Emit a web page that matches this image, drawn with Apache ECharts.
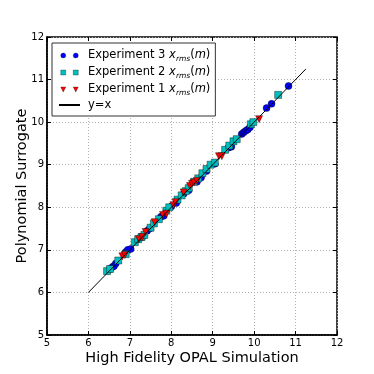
<!DOCTYPE html>
<html>
<head>
<meta charset="utf-8">
<script src="https://cdn.jsdelivr.net/npm/echarts@6/dist/echarts.min.js"></script>
<style>
  html, body { margin: 0; padding: 0; background: #fff; }
  #chart { width: 374px; height: 374px; }
</style>
</head>
<body>
<div id="chart"></div>
<script>
// data
var exp3X = [6.52, 6.58, 6.62, 6.66, 6.9, 6.95, 7.02, 7.3, 7.42, 7.48, 7.75, 7.82, 8.0, 8.12, 8.3, 8.42, 8.62, 8.72, 8.85, 9.05, 9.38, 9.45, 9.7, 9.75, 9.8, 9.85, 9.9, 10.3, 10.42, 10.83];
var exp3Y = [6.55, 6.6, 6.62, 6.68, 6.95, 7.0, 7.02, 7.3, 7.45, 7.5, 7.78, 7.8, 8.02, 8.1, 8.32, 8.4, 8.6, 8.7, 8.85, 9.02, 9.4, 9.42, 9.72, 9.76, 9.8, 9.83, 9.88, 10.33, 10.43, 10.85];
var exp2X = [6.45, 6.52, 6.72, 6.9, 7.12, 7.2, 7.28, 7.35, 7.5, 7.58, 7.7, 7.88, 7.95, 8.15, 8.25, 8.35, 8.42, 8.55, 8.65, 8.75, 8.85, 8.95, 9.05, 9.3, 9.4, 9.5, 9.58, 9.92, 9.98, 10.58];
var exp2Y = [6.5, 6.55, 6.75, 6.9, 7.18, 7.25, 7.3, 7.35, 7.52, 7.62, 7.72, 7.92, 8.0, 8.18, 8.28, 8.38, 8.45, 8.6, 8.68, 8.8, 8.9, 9.0, 9.05, 9.35, 9.45, 9.55, 9.6, 9.95, 10.0, 10.64];
var exp1X = [6.82, 6.88, 7.22, 7.3, 7.38, 7.6, 7.8, 7.88, 8.05, 8.1, 8.3, 8.45, 8.5, 8.55, 8.62, 9.15, 9.22, 10.12];
var exp1Y = [6.85, 6.88, 7.25, 7.3, 7.42, 7.65, 7.82, 7.85, 8.05, 8.12, 8.35, 8.5, 8.55, 8.58, 8.62, 9.2, 9.2, 10.07];
var lineXY = [6, 11.25];
var axisMin = 5, axisMax = 12;

function pairs(xs, ys) {
  var out = [];
  for (var i = 0; i < xs.length; i++) out.push([xs[i], ys[i]]);
  return out;
}

var myChart = echarts.init(document.getElementById('chart'));

var font = 'DejaVu Sans';
var gridLine = { show: true, lineStyle: { color: '#b0b0b0', type: [1, 2], width: 1 } };

function legendLabel(n) {
  return '{n|Experiment ' + n + ' }{x|x}{s|rms}{p|(}{x|m}{p|)}';
}

var option = {
  animation: false,
  textStyle: { fontFamily: font },
  grid: {
    left: 47, right: 37, top: 37, bottom: 39,
    show: true, borderColor: '#000', borderWidth: 1.5
  },
  legend: {
    left: 52, top: 43,
    orient: 'vertical',
    padding: [5, 5, 5, 6],
    itemGap: 2,
    itemWidth: 21, itemHeight: 5,
    backgroundColor: '#fff',
    borderColor: '#333', borderWidth: 1, borderRadius: 0,
    itemStyle: { borderWidth: 0.3 },
    data: [
      { name: 'Experiment 3', icon: 'path://M0,3A3,3,0,1,1,6,3A3,3,0,1,1,0,3ZM15,3A3,3,0,1,1,21,3A3,3,0,1,1,15,3Z' },
      { name: 'Experiment 2', icon: 'path://M0,0H6V6H0ZM15,0H21V6H15Z' },
      { name: 'Experiment 1', icon: 'path://M0,0H6L3,6ZM15,0H21L18,6Z' },
      { name: 'y=x', itemStyle: { opacity: 0 } }
    ],
    formatter: function (name) {
      if (name === 'y=x') return '{n|y=x}';
      return legendLabel(name.slice(-1));
    },
    textStyle: {
      color: '#000',
      rich: {
        n: { fontSize: 11.5, fontFamily: font, color: '#000', padding: [0, 0, 0, 3], lineHeight: 13 },
        p: { fontSize: 11.5, fontFamily: font, color: '#000', lineHeight: 13 },
        x: { fontSize: 11.5, fontFamily: font, fontStyle: 'italic', color: '#000', lineHeight: 13 },
        s: { fontSize: 7.5, fontFamily: font, fontStyle: 'italic', color: '#000', padding: [7, 0, 0, 0], lineHeight: 13 }
      }
    }
  },
  xAxis: [{
    type: 'value', min: axisMin, max: axisMax, interval: 1,
    name: 'High Fidelity OPAL Simulation', nameLocation: 'middle', nameGap: 16,
    nameMoveOverlap: false,
    nameTextStyle: { fontSize: 14.5, color: '#000', fontFamily: font },
    axisLine: { show: true, onZero: false, lineStyle: { color: '#000', width: 1.5 } },
    axisTick: { show: true, inside: true, length: 4, lineStyle: { color: '#000' } },
    axisLabel: { fontSize: 10, color: '#000', margin: 3 },
    splitLine: gridLine
  }, {
    type: 'value', min: axisMin, max: axisMax, interval: 1, position: 'top',
    axisLine: { show: false },
    axisTick: { show: true, inside: true, length: 4, lineStyle: { color: '#000' } },
    axisLabel: { show: false }, splitLine: { show: false }
  }],
  yAxis: [{
    type: 'value', min: axisMin, max: axisMax, interval: 1,
    name: 'Polynomial Surrogate', nameLocation: 'middle', nameGap: 17,
    nameMoveOverlap: false,
    nameTextStyle: { fontSize: 14.5, color: '#000', fontFamily: font },
    axisLine: { show: true, onZero: false, lineStyle: { color: '#000', width: 1.5 } },
    axisTick: { show: true, inside: true, length: 4, lineStyle: { color: '#000' } },
    axisLabel: { fontSize: 10, color: '#000', margin: 3 },
    splitLine: gridLine
  }, {
    type: 'value', min: axisMin, max: axisMax, interval: 1, position: 'right',
    axisLine: { show: false },
    axisTick: { show: true, inside: true, length: 4, lineStyle: { color: '#000' } },
    axisLabel: { show: false }, splitLine: { show: false }
  }],
  series: [{
    name: 'Experiment 3', type: 'scatter', data: pairs(exp3X, exp3Y),
    symbol: 'circle', symbolSize: 7, z: 2,
    itemStyle: { color: '#0000ff', borderColor: '#000', borderWidth: 0.4, opacity: 1 }
  }, {
    name: 'Experiment 2', type: 'scatter', data: pairs(exp2X, exp2Y),
    symbol: 'rect', symbolSize: 7, z: 3,
    itemStyle: { color: '#00bfbf', borderColor: '#000', borderWidth: 0.4, opacity: 1 }
  }, {
    name: 'Experiment 1', type: 'scatter', data: pairs(exp1X, exp1Y),
    symbol: 'triangle', symbolRotate: 180, symbolSize: 7, z: 4,
    itemStyle: { color: '#ff0000', borderColor: '#000', borderWidth: 0.4, opacity: 1 }
  }, {
    name: 'y=x', type: 'line', data: pairs(lineXY, lineXY),
    symbol: 'none', z: 5,
    lineStyle: { color: '#000', width: 1 },
    itemStyle: { color: '#000' }
  }]
};

myChart.setOption(option);
</script>
</body>
</html>
